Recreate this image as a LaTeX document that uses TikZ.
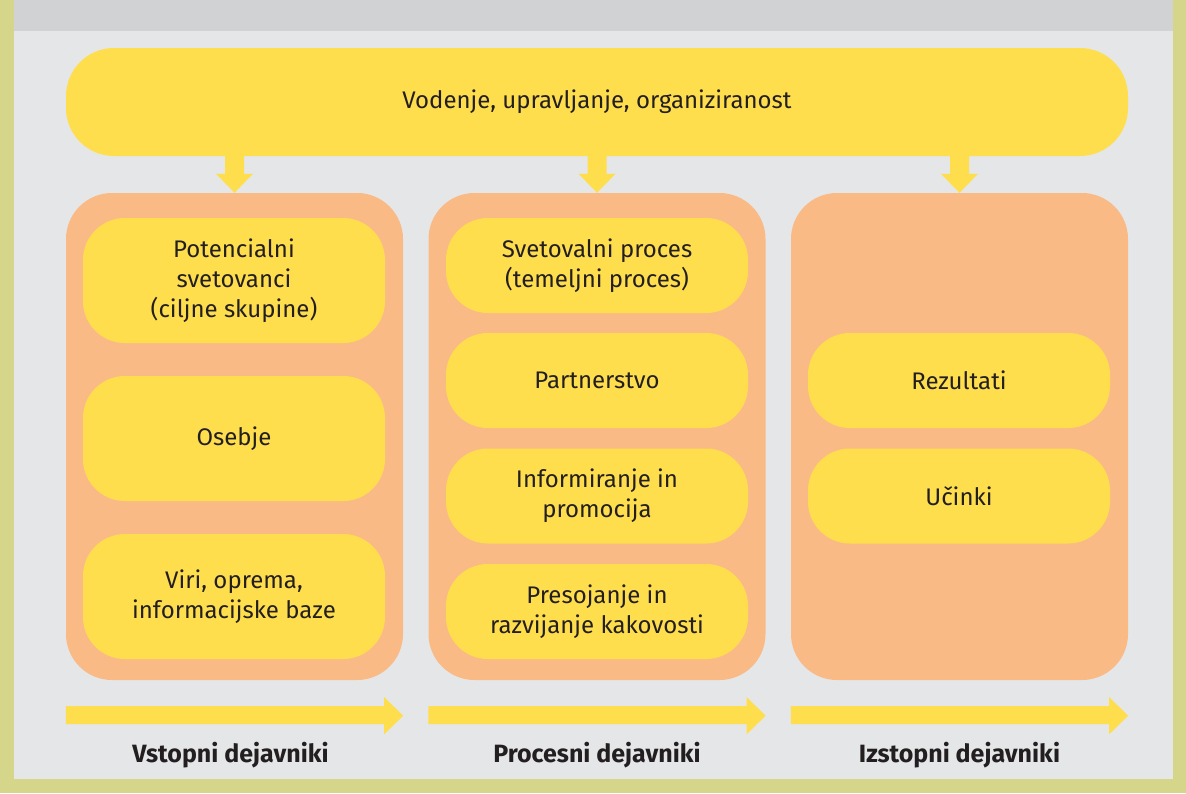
\documentclass[tikz,border=0pt]{standalone}
\usepackage{fontspec}
\setmainfont{Fira Sans}
\usetikzlibrary{calc}
\definecolor{yel}{HTML}{FFDE4E}
\definecolor{ora}{HTML}{FABA85}
\definecolor{lgrey}{HTML}{E5E6E8}
\definecolor{tgrey}{HTML}{D1D2D4}
\definecolor{oliv}{HTML}{D6D68B}
\definecolor{ink}{HTML}{231F20}
\tikzset{
  bar/.style={fill=yel, rounded corners=48pt, minimum width=1062pt, minimum height=108pt, inner sep=0pt, text=ink, font=\fontsize{24}{30}\selectfont},
  col/.style={fill=ora, rounded corners=46pt, minimum width=337pt, minimum height=487pt, inner sep=0pt},
  box/.style={fill=yel, rounded corners=42pt, minimum width=302pt, inner sep=0pt, align=center, text=ink, font=\fontsize{24}{30}\selectfont},
  lab/.style={text=ink, font=\fontsize{25}{28}\selectfont\bfseries},
  arr/.style={fill=yel},
}
\begin{document}
\begin{tikzpicture}[x=1pt,y=-1pt]
\useasboundingbox (0,0) rectangle (1186,793);
\fill[oliv] (0,0) rectangle (1186,793);
\fill[lgrey] (14,0) rectangle (1173,779);
\fill[tgrey] (14,0) rectangle (1173,31);

\node[bar] (bar) at (597,102) {Vodenje, upravljanje, organiziranost};

\node[col] (c1) at (234.5,436.5) {};
\node[col] (c2) at (597,436.5) {};
\node[col] (c3) at (959.5,436.5) {};

\node[box, minimum height=125pt] (b11) at (234,280.5) {Potencialni\\svetovanci\\(ciljne skupine)};
\node[box, minimum height=125pt] (b12) at (234,438.5) {Osebje};
\node[box, minimum height=125pt] (b13) at (234,596.5) {Viri, oprema,\\informacijske baze};

\node[box, minimum height=95pt] (b21) at (597,265.5) {Svetovalni proces\\(temeljni proces)};
\node[box, minimum height=95pt] (b22) at (597,380.5) {Partnerstvo};
\node[box, minimum height=95pt] (b23) at (597,496) {Informiranje in\\promocija};
\node[box, minimum height=95pt] (b24) at (597,611.5) {Presojanje in\\razvijanje kakovosti};

\node[box, minimum height=95pt] (b31) at (959,380.5) {Rezultati};
\node[box, minimum height=95pt] (b32) at (959,496) {Učinki};

\foreach \c in {c1,c2,c3}{
  \fill[arr] ($(\c.north |- bar.south)+(-9.5,-1)$) -- ($(\c.north)+(-9.5,-19)$) -- ($(\c.north)+(-18.5,-19)$) -- (\c.north)
    -- ($(\c.north)+(18.5,-19)$) -- ($(\c.north)+(9.5,-19)$) -- ($(\c.north |- bar.south)+(9.5,-1)$) -- cycle;
  \fill[arr] ($(\c.south west)+(0,26)$) -- ($(\c.south east)+(-19,26)$) -- ($(\c.south east)+(-19,17)$) -- ($(\c.south east)+(0,35.5)$)
    -- ($(\c.south east)+(-19,54)$) -- ($(\c.south east)+(-19,44)$) -- ($(\c.south west)+(0,44)$) -- cycle;
}

\node[lab] (l1) at ($(c1.south)+(-4,75)$) {Vstopni dejavniki};
\node[lab] (l2) at ($(c2.south)+(0,75)$) {Procesni dejavniki};
\node[lab] (l3) at ($(c3.south)+(0,75)$) {Izstopni dejavniki};
\end{tikzpicture}
\end{document}
